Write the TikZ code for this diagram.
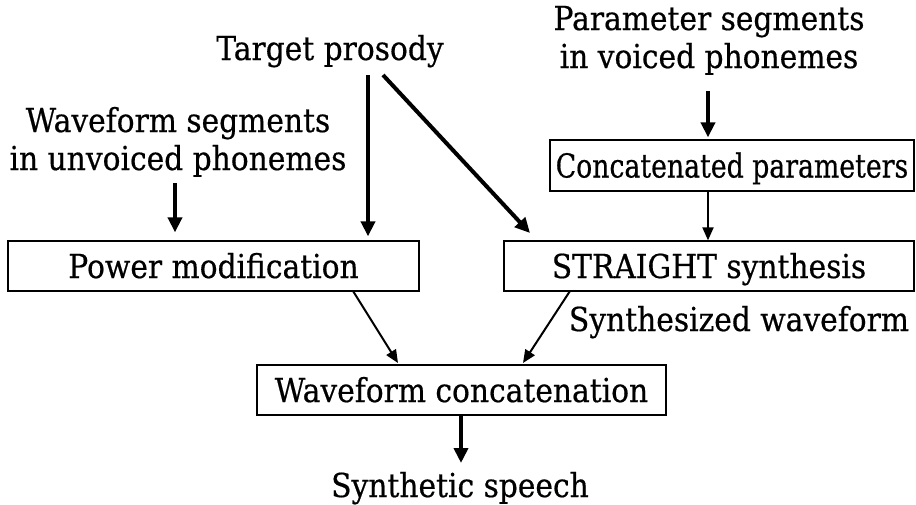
\documentclass[tikz,border=0pt]{standalone}
\usepackage{graphicx}
\usepackage{fontspec}
\setmainfont[FakeStretch=0.9,FakeBold=0.5]{DejaVu Serif}
\usetikzlibrary{arrows.meta}
\begin{document}
\begin{tikzpicture}[x=1pt,y=-1pt,
  every node/.style={font=\fontsize{33}{40}\selectfont},
  label/.style={align=center, inner sep=0pt},
  procbox/.style={draw=black, line width=1.3pt, inner sep=0pt,
    text height=24pt, text depth=0pt},
  heavy/.style={line width=4pt, -{Triangle[width=14pt,length=15pt]}},
  light/.style={line width=2pt, -{Triangle[width=11pt,length=13pt]}}]
  \useasboundingbox (0,0) rectangle (916,504);

  % source texts
  \node[label, anchor=base] (target) at (330,60) {Target prosody};
  \node[label, anchor=base] (wsegA) at (178,132) {Waveform segments};
  \node[label, anchor=base] (wsegB) at (178,170) {in unvoiced phonemes};
  \node[label, anchor=base] (psegA) at (709,30) {Parameter segments};
  \node[label, anchor=base] (psegB) at (709,68) {in voiced phonemes};

  % processing boxes
  \node[procbox, minimum width=411pt, minimum height=50pt] (power) at (213.5,266) {Power modification};
  \node[procbox, minimum width=364pt, minimum height=51pt] (concat) at (732,165.5) {\scalebox{0.9}[1]{Concatenated parameters}};
  \node[procbox, minimum width=410pt, minimum height=50pt] (straight) at (709,266) {STRAIGHT synthesis};
  \node[procbox, minimum width=409pt, minimum height=50pt] (wconcat) at (461.5,390) {Waveform concatenation};

  % output texts
  \node[label, anchor=base] (wavelbl) at (739,331) {Synthesized waveform};
  \node[label, anchor=base] (speech) at (460,497) {Synthetic speech};

  % connector end points
  \coordinate (wsegout) at (175,183);
  \coordinate (tpdown) at (368,75);
  \coordinate (tpdiag) at (383,75);
  \coordinate (tpdiagend) at (530,233);
  \coordinate (psegout) at (708,91);
  \coordinate (powout) at (353,291);
  \coordinate (wcin1) at (398,363);
  \coordinate (strout) at (570,291);
  \coordinate (wcin2) at (523,363);
  \coordinate (wcout) at (461,415);
  \coordinate (speechin) at (461,463);

  % connectors
  \draw[heavy, shorten >=8pt] (wsegout) -- (wsegout |- power.north);
  \draw[heavy, shorten >=4pt] (tpdown) -- (tpdown |- power.north);
  \draw[heavy] (tpdiag) -- (tpdiagend);
  \draw[heavy, shorten >=2pt] (psegout) -- (psegout |- concat.north);
  \draw[light] (psegout |- concat.south) -- (psegout |- straight.north);
  \draw[light] (powout) -- (wcin1);
  \draw[light] (strout) -- (wcin2);
  \draw[heavy] (wcout) -- (speechin);
\end{tikzpicture}
\end{document}
